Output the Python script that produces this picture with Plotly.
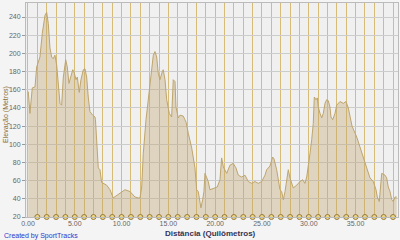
import plotly.graph_objects as go

# Distance (km) and elevation (m)
distance_km = [0.03, 0.21, 0.46, 0.75, 0.93, 1.28, 1.53, 1.82, 2.00, 2.17, 2.35, 2.53, 2.70, 2.88,
               3.07, 3.24, 3.42, 3.60, 3.77, 4.03, 4.20, 4.38, 4.56, 4.78, 4.91, 5.13, 5.27, 5.48,
               5.66, 5.91, 6.09, 6.27, 6.44, 6.62, 6.91, 7.16, 7.21, 7.34, 7.51, 7.69, 7.87, 8.41,
               8.76, 9.11, 9.40, 9.65, 10.01, 10.36, 10.90, 11.43, 11.78, 11.97, 12.15, 12.32,
               12.61, 12.85, 13.03, 13.22, 13.39, 13.57, 13.75, 13.92, 14.10, 14.35, 14.45, 14.64,
               14.82, 15.10, 15.35, 15.52, 15.71, 15.81, 16.06, 16.24, 16.59, 16.77, 16.90, 17.13,
               17.49, 17.84, 18.02, 18.19, 18.38, 18.48, 18.66, 18.80, 18.91, 19.09, 19.26, 19.44,
               19.98, 20.22, 20.51, 20.69, 20.87, 21.05, 21.23, 21.58, 21.93, 22.22, 22.47, 22.83,
               23.18, 23.54, 23.90, 24.25, 24.60, 24.97, 25.32, 25.50, 25.85, 26.14, 26.28, 26.57,
               26.74, 26.92, 27.10, 27.28, 27.46, 27.64, 27.81, 27.99, 28.17, 28.34, 28.71, 29.06,
               29.35, 29.59, 29.78, 29.95, 30.13, 30.31, 30.48, 30.59, 30.77, 30.91, 31.01, 31.20,
               31.38, 31.55, 31.73, 31.91, 32.08, 32.26, 32.37, 32.55, 32.80, 32.98, 33.33, 33.69,
               33.97, 34.22, 34.40, 34.62, 35.12, 35.47, 35.82, 36.19, 36.54, 36.89, 37.18, 37.32,
               37.53, 37.68, 37.79, 38.14, 38.32, 38.49, 38.68, 38.86, 39.03, 39.21, 39.39]
elevation_m = [158, 134, 162, 163, 185, 196, 222, 242, 245, 233, 206, 196, 194, 198,
               187, 165, 145, 143, 173, 193, 185, 167, 173, 182, 180, 171, 174, 157,
               171, 182, 183, 174, 152, 136, 132, 130, 127, 101, 74, 72, 58, 55,
               50, 41, 43, 45, 48, 50, 48, 42, 41, 41, 53, 90,
               127, 149, 167, 185, 198, 202, 196, 178, 171, 180, 182, 171,
               149, 134, 130, 171, 169, 141, 129, 132, 131, 127, 124, 112,
               96, 74, 50, 48, 37, 30, 39, 48, 68, 63, 59, 50,
               52, 53, 61, 85, 75, 72, 68, 77, 79, 74, 66, 64,
               66, 59, 57, 59, 57, 59, 66, 72, 76, 86, 84, 72,
               59, 50, 48, 39, 48, 63, 72, 63, 57, 52, 55, 59,
               61, 57, 64, 75, 90, 105, 123, 152, 149, 151, 141, 134,
               129, 134, 145, 149, 148, 141, 130, 127, 134, 143, 147, 145,
               147, 140, 129, 120, 108, 96, 86, 74, 63, 59, 50, 42,
               37, 55, 68, 66, 63, 53, 48, 39, 37, 42, 42]

km_markers = list(range(1, 40))
y_ticks = list(range(20, 241, 20))
x_ticks = [0, 5, 10, 15, 20, 25, 30, 35]
x_tick_labels = ["0.00", "5.00", "10.00", "15.00", "20.00", "25.00", "30.00", "35.00"]

fig = go.Figure()
fig.add_trace(go.Scatter(
    x=distance_km, y=elevation_m, mode="lines",
    line=dict(color="rgb(190,165,110)", width=1),
    fill="tozeroy", fillcolor="rgba(195,165,110,0.38)",
    hoverinfo="skip", showlegend=False))
fig.add_trace(go.Scatter(
    x=km_markers, y=[20] * len(km_markers), mode="markers",
    marker=dict(symbol="circle", size=5, color="rgb(236,215,130)",
                line=dict(color="rgb(150,120,60)", width=1)),
    cliponaxis=False, hoverinfo="skip", showlegend=False))

tick_font = dict(family="Liberation Sans, Arial, sans-serif", size=7, color="#666666")
grid_gold = "rgb(214,188,118)"

fig.update_layout(
    width=400, height=240,
    margin=dict(l=26, r=2, t=3, b=23),
    paper_bgcolor="#f4f4f4",
    plot_bgcolor="#f0f0f0",
    xaxis=dict(
        range=[-0.21, 39.53], tickvals=x_ticks, ticktext=x_tick_labels,
        showgrid=True, gridcolor=grid_gold, gridwidth=1,
        minor=dict(dtick=1, tick0=0, showgrid=True, gridcolor=grid_gold, gridwidth=1),
        zeroline=False, showline=True, linecolor="#bbbbbb", mirror=True,
        ticks="", tickfont=tick_font, ticklabelstandoff=0),
    yaxis=dict(
        range=[20, 255.4], tickvals=y_ticks,
        showgrid=True, gridcolor="#cccccc", gridwidth=1,
        zeroline=False, showline=True, linecolor="#bbbbbb", mirror=True,
        ticks="outside", ticklen=3, tickcolor="#999999", tickfont=tick_font),
    annotations=[
        dict(text="Elevação (Metros)", textangle=-90, xref="paper", yref="paper",
             x=-0.052, y=0.48, xanchor="center", yanchor="middle", showarrow=False,
             font=dict(family="Liberation Sans, Arial, sans-serif", size=7, color="#8a6a30")),
        dict(text="<b>Distância (Quilômetros)</b>", xref="paper", yref="paper",
             x=0.495, y=-0.075, xanchor="center", yanchor="middle", showarrow=False,
             font=dict(family="Liberation Sans, Arial, sans-serif", size=8, color="#333355")),
        dict(text="Created by SportTracks", xref="paper", yref="paper",
             x=-0.065, y=-0.09, xanchor="left", yanchor="middle", showarrow=False,
             font=dict(family="Liberation Sans, Arial, sans-serif", size=7, color="#3333cc")),
    ],
)

fig.write_html("out.html")
